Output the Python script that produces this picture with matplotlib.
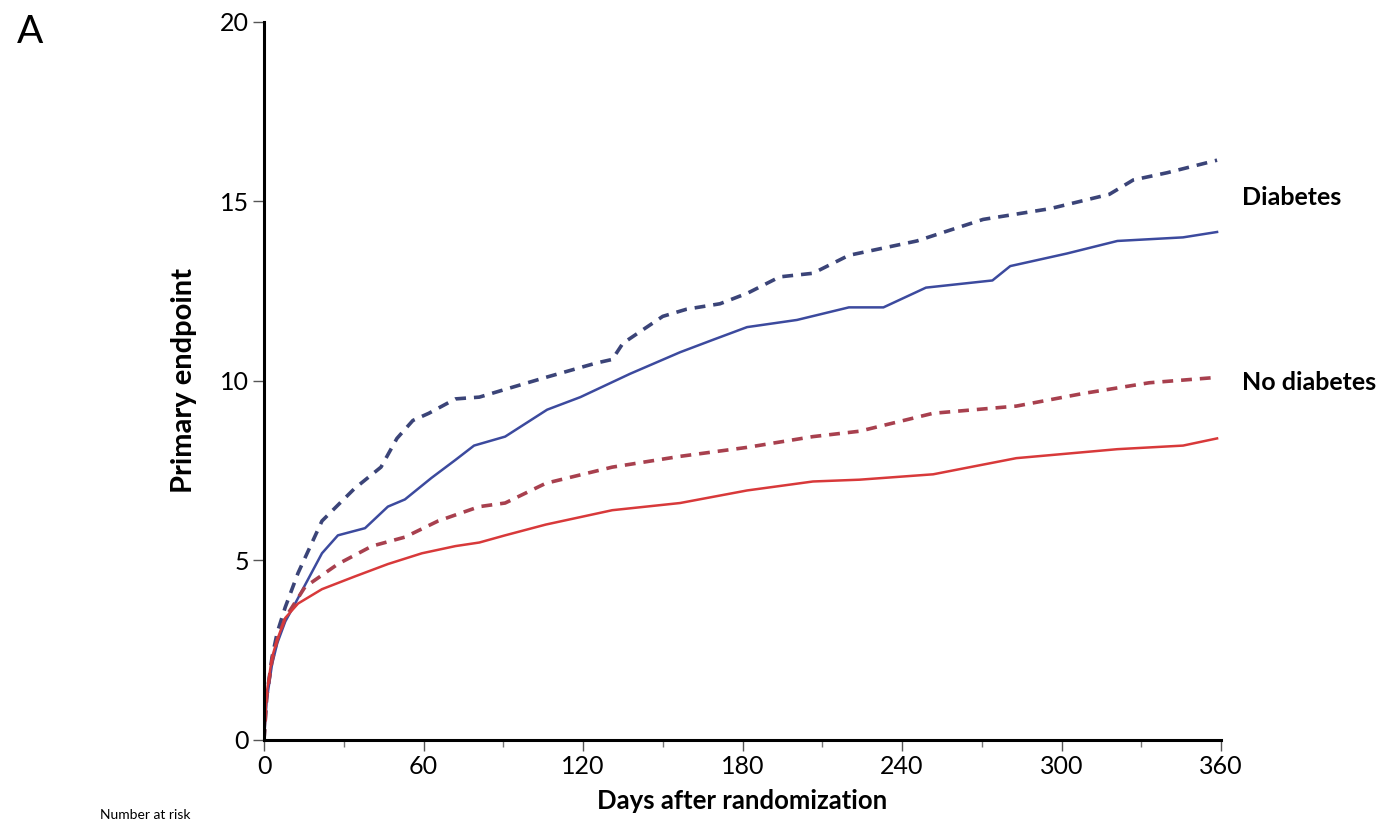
import matplotlib.pyplot as plt
import numpy as np
from matplotlib.ticker import MultipleLocator

plt.rcParams['font.family'] = ['Lato', 'DejaVu Sans']

# days after randomization and cumulative event rate (%)
days_diab_dash = [0, 1, 3, 5, 8, 12.8, 21.8, 34, 44, 50, 56, 62, 72, 81, 90, 106, 125, 131, 135,
                  150, 159, 171.5, 182, 194, 206.5, 220, 245.6, 258, 270.5, 295.7, 318, 327,
                  339.7, 358.5]
diab_dash = [0, 1.2, 2.3, 3.0, 3.7, 4.65, 6.1, 7.0, 7.6, 8.4, 8.9, 9.1, 9.5, 9.55, 9.75, 10.1,
             10.5, 10.6, 11.05, 11.8, 12.0, 12.15, 12.45, 12.9, 13.0, 13.5, 13.9, 14.2, 14.5,
             14.8, 15.2, 15.6, 15.8, 16.15]

days_diab_solid = [0, 1, 3, 5, 8, 11.7, 21.8, 27.8, 38, 46.6, 53, 63, 72, 79, 90.7, 106.5, 119,
                   137.7, 156.5, 169, 181.7, 200.5, 220, 233, 249, 274, 280.7, 302, 321, 345.7,
                   358.5]
diab_solid = [0, 1.1, 2.1, 2.7, 3.3, 3.8, 5.2, 5.7, 5.9, 6.5, 6.7, 7.3, 7.8, 8.2, 8.45, 9.2,
              9.55, 10.2, 10.8, 11.15, 11.5, 11.7, 12.05, 12.05, 12.6, 12.8, 13.2, 13.55, 13.9,
              14.0, 14.15]

days_nodiab_dash = [0, 1, 3, 5, 8, 15.4, 27.8, 40.6, 53, 65.5, 81, 90.7, 106, 131, 156.5, 181.7,
                    206.5, 224, 251.7, 283, 308, 333, 358.5]
nodiab_dash = [0, 1.2, 2.2, 2.8, 3.4, 4.26, 4.9, 5.4, 5.65, 6.1, 6.5, 6.6, 7.15, 7.6, 7.9, 8.15,
               8.45, 8.6, 9.1, 9.3, 9.65, 9.95, 10.1]

days_nodiab_solid = [0, 1, 3, 5, 8, 12.8, 21.8, 34, 46.6, 59.4, 72, 81, 90.7, 106, 131, 156.5,
                     181.7, 206.5, 224, 251.7, 283, 321, 345.7, 358.5]
nodiab_solid = [0, 1.3, 2.3, 2.8, 3.4, 3.8, 4.2, 4.55, 4.9, 5.2, 5.4, 5.5, 5.7, 6.0, 6.4, 6.6,
                6.95, 7.2, 7.25, 7.4, 7.85, 8.1, 8.2, 8.4]

x_ticks = [0, 60, 120, 180, 240, 300, 360]
y_ticks = [0, 5, 10, 15, 20]

fig = plt.figure(figsize=(13.83, 8.23), dpi=100)
ax = fig.add_axes([0.1909, 0.1009, 0.692, 0.8724])

ax.plot(days_diab_dash, diab_dash, color='#3b4478', linestyle=(0, (3, 2.2)), linewidth=2.6)
ax.plot(days_diab_solid, diab_solid, color='#3c4a9e', linewidth=1.8)
ax.plot(days_nodiab_dash, nodiab_dash, color='#a8404e', linestyle=(0, (3, 2.2)), linewidth=2.6)
ax.plot(days_nodiab_solid, nodiab_solid, color='#d8393a', linewidth=1.8)

ax.set_xlim(0, 360)
ax.set_ylim(0, 20)
ax.set_xticks(x_ticks)
ax.set_yticks(y_ticks)
ax.xaxis.set_minor_locator(MultipleLocator(30))

for s in ['top', 'right']:
    ax.spines[s].set_visible(False)
for s in ['left', 'bottom']:
    ax.spines[s].set_linewidth(2.2)

ax.tick_params(axis='both', which='major', direction='out', length=8, width=1,
               labelsize=18, color='#555555', pad=3)
ax.tick_params(axis='x', which='minor', direction='out', length=5, width=1, color='#777777')

ax.set_xlabel('Days after randomization', fontsize=18.5, fontweight='bold', labelpad=8)
ax.set_ylabel('Primary endpoint', fontsize=21, fontweight='bold')
ax.yaxis.set_label_coords(-0.070, 0.5)

ax.text(368, 15.1, 'Diabetes', fontsize=18, fontweight='bold', va='center', clip_on=False)
ax.text(368, 9.95, 'No diabetes', fontsize=18, fontweight='bold', va='center', clip_on=False)

fig.text(0.012, 0.948, 'A', fontsize=28)
fig.text(0.072, 0.002, 'Number at risk', fontsize=10, va='bottom')

fig.savefig('out.png', dpi=100)
